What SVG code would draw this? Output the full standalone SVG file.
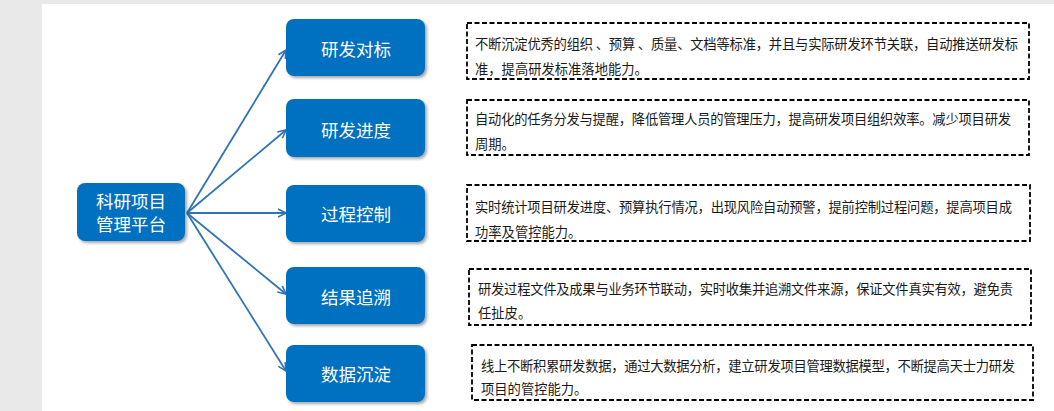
<svg xmlns="http://www.w3.org/2000/svg" width="1054" height="411" viewBox="0 0 1054 411">
<style>
.node rect{fill:#0070c0;filter:url(#sh)}
.node text{fill:#ffffff;font-family:"Noto Sans CJK SC","Microsoft YaHei",sans-serif;font-size:17.5px;text-anchor:middle;dominant-baseline:central}
.desc rect{fill:#ffffff;stroke:#000000;stroke-width:1.8;stroke-dasharray:5 2.5}
.desc text{fill:#1a1a1a;font-family:"Noto Sans CJK SC","Microsoft YaHei",sans-serif;font-size:13.3px;dominant-baseline:central}
.conn line{stroke:#2f74b5;stroke-width:1.8;fill:none;marker-end:url(#arr)}
</style>
<defs>
<filter id="sh" x="-10%" y="-10%" width="125%" height="135%">
<feDropShadow dx="2" dy="2" stdDeviation="1.5" flood-color="#000000" flood-opacity="0.35"/>
</filter>
<marker id="arr" viewBox="0 0 10 10" refX="9" refY="5" markerWidth="10" markerHeight="10" markerUnits="userSpaceOnUse" orient="auto">
<path d="M1,1 L9,5 L1,9" fill="none" stroke="#2f74b5" stroke-width="1.6"/>
</marker>
</defs>
<rect x="0" y="0" width="1054" height="411" fill="#e9e9e9"/>
<rect x="42" y="4" width="1012" height="407" fill="#ffffff"/>

<g id="connectors" class="conn">
<line x1="187" y1="213" x2="286" y2="50"/>
<line x1="187" y1="213" x2="286" y2="130"/>
<line x1="187" y1="213" x2="286" y2="213"/>
<line x1="187" y1="213" x2="286" y2="294"/>
<line x1="187" y1="213" x2="286" y2="371"/>
</g>

<g id="node-center" class="node">
<rect x="77" y="183" width="108" height="58" rx="8"/>
<text x="131" y="200">科研项目</text>
<text x="131" y="223">管理平台</text>
</g>
<g id="node-duibiao" class="node">
<rect x="286" y="19" width="139" height="57" rx="8"/>
<text x="356" y="48">研发对标</text>
</g>
<g id="node-jindu" class="node">
<rect x="286" y="99" width="139" height="58" rx="8"/>
<text x="356" y="129">研发进度</text>
</g>
<g id="node-kongzhi" class="node">
<rect x="286" y="185" width="139" height="57" rx="8"/>
<text x="356" y="213">过程控制</text>
</g>
<g id="node-zhuisu" class="node">
<rect x="286" y="267" width="139" height="57" rx="8"/>
<text x="356" y="296">结果追溯</text>
</g>
<g id="node-chendian" class="node">
<rect x="286" y="345" width="139" height="57" rx="8"/>
<text x="356" y="373">数据沉淀</text>
</g>

<g id="desc-1" class="desc">
<rect x="467" y="23" width="562" height="56"/>
<text x="475" y="43" textLength="543" lengthAdjust="spacing">不断沉淀优秀的组织 、预算 、质量、文档等标准，并且与实际研发环节关联，自动推送研发标</text>
<text x="475" y="68">准，提高研发标准落地能力。</text>
</g>
<g id="desc-2" class="desc">
<rect x="467" y="100" width="562" height="55"/>
<text x="475" y="118" textLength="536" lengthAdjust="spacing">自动化的任务分发与提醒，降低管理人员的管理压力，提高研发项目组织效率。减少项目研发</text>
<text x="475" y="143">周期。</text>
</g>
<g id="desc-3" class="desc">
<rect x="467" y="185" width="563" height="56"/>
<text x="475" y="206" textLength="537" lengthAdjust="spacing">实时统计项目研发进度、预算执行情况，出现风险自动预警，提前控制过程问题，提高项目成</text>
<text x="475" y="231">功率及管控能力。</text>
</g>
<g id="desc-4" class="desc">
<rect x="469" y="269" width="562" height="56"/>
<text x="478" y="288" textLength="535" lengthAdjust="spacing">研发过程文件及成果与业务环节联动，实时收集并追溯文件来源，保证文件真实有效，避免责</text>
<text x="478" y="312">任扯皮。</text>
</g>
<g id="desc-5" class="desc">
<rect x="472" y="345" width="561" height="55"/>
<text x="481" y="365" textLength="534" lengthAdjust="spacing">线上不断积累研发数据，通过大数据分析，建立研发项目管理数据模型，不断提高天士力研发</text>
<text x="481" y="388">项目的管控能力。</text>
</g>
</svg>
